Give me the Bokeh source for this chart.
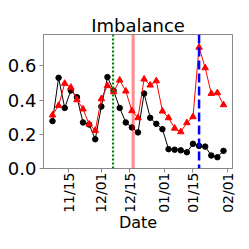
import math
from datetime import datetime
from bokeh.plotting import figure
from bokeh.models import FixedTicker, DatetimeTickFormatter, PrintfTickFormatter, Span, Range1d
from bokeh.embed import file_html
from bokeh.resources import INLINE

dates = ["2019-11-07", "2019-11-10", "2019-11-13", "2019-11-16", "2019-11-19", "2019-11-22",
         "2019-11-25", "2019-11-28", "2019-12-01", "2019-12-04", "2019-12-07", "2019-12-10",
         "2019-12-13", "2019-12-16", "2019-12-19", "2019-12-22", "2019-12-25", "2019-12-28",
         "2019-12-31", "2020-01-03", "2020-01-06", "2020-01-09", "2020-01-12", "2020-01-15",
         "2020-01-18", "2020-01-21", "2020-01-24", "2020-01-27", "2020-01-30"]
black_vals = [0.277, 0.530, 0.354, 0.456, 0.417, 0.269, 0.257, 0.171, 0.362, 0.534,
              0.455, 0.354, 0.269, 0.240, 0.211, 0.438, 0.296, 0.261, 0.230, 0.113,
              0.110, 0.106, 0.095, 0.144, 0.132, 0.128, 0.076, 0.066, 0.103]
red_vals = [0.312, 0.368, 0.497, 0.474, 0.401, 0.347, 0.259, 0.222, 0.407, 0.484,
            0.448, 0.516, 0.452, 0.337, 0.296, 0.522, 0.487, 0.512, 0.335, 0.296,
            0.235, 0.214, 0.267, 0.302, 0.708, 0.588, 0.438, 0.442, 0.372]
tick_dates = ["2019-11-15", "2019-12-01", "2019-12-15", "2020-01-01", "2020-01-15", "2020-02-01"]
y_ticks = [0.0, 0.2, 0.4, 0.6]
green_line = "2019-12-06 18:00"
red_line = "2019-12-16 15:00"
blue_line = "2020-01-18 00:00"
x_start = "2019-11-02 14:00"
x_end = "2020-02-03 10:00"


def ms(s):
    fmt = "%Y-%m-%d %H:%M" if " " in s else "%Y-%m-%d"
    return (datetime.strptime(s, fmt) - datetime(1970, 1, 1)).total_seconds() * 1000.0


xs = [ms(d) for d in dates]

p = figure(x_axis_type="datetime", output_backend="svg", toolbar_location=None,
           frame_width=189, frame_height=134, min_border_left=43, min_border_right=10,
           min_border_top=34, min_border_bottom=10,
           x_range=Range1d(ms(x_start), ms(x_end)), y_range=Range1d(0, 0.783),
           title="Imbalance")
p.title.text_font = "DejaVu Sans"
p.title.text_font_size = "18px"
p.title.text_font_style = "normal"
p.title.text_color = "black"
p.title.align = "center"
p.title.standoff = -2
p.xgrid.visible = False
p.ygrid.visible = False
p.outline_line_color = "#888888"
p.background_fill_color = "white"
p.border_fill_color = "white"

p.line(xs, black_vals, color="black", line_width=1)
p.scatter(xs, black_vals, marker="circle", size=5.5, color="black")
p.line(xs, red_vals, color="red", line_width=1)
p.scatter(xs, red_vals, marker="triangle", size=6.5, color="red")

p.add_layout(Span(location=ms(green_line), dimension="height", line_color="green",
                  line_width=2.2, line_dash="2 2"))
p.add_layout(Span(location=ms(red_line), dimension="height", line_color="red",
                  line_alpha=0.45, line_width=3))
p.add_layout(Span(location=ms(blue_line), dimension="height", line_color="blue",
                  line_width=2.5, line_dash="9 4"))

xa = p.xaxis[0]
xa.ticker = FixedTicker(ticks=[ms(d) for d in tick_dates])
xa.formatter = DatetimeTickFormatter(days="%m/%d", months="%m/%d")
xa.major_label_orientation = math.pi / 2
xa.axis_label = "Date"
ya = p.yaxis[0]
ya.ticker = FixedTicker(ticks=y_ticks)
ya.formatter = PrintfTickFormatter(format="%.1f")
for ax in (xa, ya):
    ax.axis_line_color = "#888888"
    ax.major_tick_line_color = "#888888"
    ax.minor_tick_line_color = None
    ax.major_tick_in = 0
    ax.major_tick_out = 4
    ax.major_label_standoff = 2
    ax.major_label_text_font = "DejaVu Sans"
    ax.major_label_text_color = "black"
    ax.axis_label_text_font = "DejaVu Sans"
    ax.axis_label_text_font_style = "normal"
    ax.axis_label_text_color = "black"
    ax.axis_label_text_font_size = "16px"
    ax.axis_label_standoff = 2
xa.major_label_text_font_size = "14px"
xa.major_label_standoff = 0
xa.axis_label_standoff = -3
ya.major_label_text_font_size = "18px"
ya.major_label_standoff = 3

open("out.html", "w").write(file_html(p, INLINE))
